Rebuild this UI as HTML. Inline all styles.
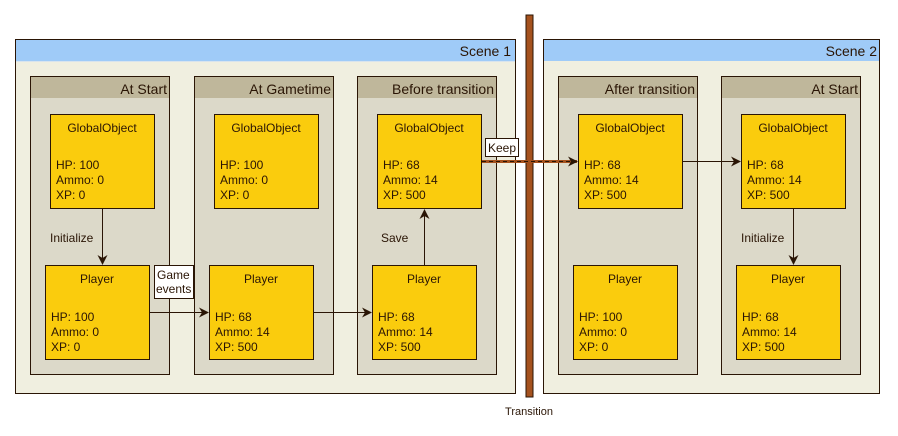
<!DOCTYPE html>
<html><head><meta charset="utf-8"><style>
html,body{margin:0;padding:0;background:#fff;width:898px;height:436px;overflow:hidden}
text{font-family:"Liberation Sans",sans-serif;fill:#2a1505}
</style></head><body>
<svg width="898" height="436" viewBox="0 0 898 436" xmlns="http://www.w3.org/2000/svg">
<defs>
<marker id="a" markerWidth="10" markerHeight="10" refX="9" refY="5" orient="auto" markerUnits="userSpaceOnUse">
<path d="M0,0 L10,5 L0,10 L3,5 Z" fill="#2a1505"/></marker>
</defs>
<!-- Scenes -->
<rect x="15.5" y="39.5" width="500" height="354" fill="#f0efe0" stroke="#2a1505"/>
<rect x="16" y="40" width="499" height="21" fill="#9fcbf8"/>
<line x1="16" y1="61.5" x2="515" y2="61.5" stroke="#d8e4ee"/>
<text x="511" y="56" font-size="14" text-anchor="end">Scene 1</text>
<rect x="543.5" y="39.5" width="336" height="354" fill="#f0efe0" stroke="#2a1505"/>
<rect x="544" y="40" width="335" height="21" fill="#9fcbf8"/>
<text x="877" y="56" font-size="14" text-anchor="end">Scene 2</text>
<!-- columns -->
<g font-size="14">
<g>
<rect x="30.5" y="76.5" width="139" height="298" fill="#dcd9c9" stroke="#2a1505"/>
<rect x="31" y="77" width="138" height="21" fill="#bfb79b"/>
<text x="167" y="94" text-anchor="end">At Start</text>
</g>
<g>
<rect x="194.5" y="76.5" width="139" height="298" fill="#dcd9c9" stroke="#2a1505"/>
<rect x="195" y="77" width="138" height="21" fill="#bfb79b"/>
<text x="331" y="94" text-anchor="end">At Gametime</text>
</g>
<g>
<rect x="357.5" y="76.5" width="139" height="298" fill="#dcd9c9" stroke="#2a1505"/>
<rect x="358" y="77" width="138" height="21" fill="#bfb79b"/>
<text x="494" y="94" text-anchor="end">Before transition</text>
</g>
<g>
<rect x="558.5" y="76.5" width="139" height="298" fill="#dcd9c9" stroke="#2a1505"/>
<rect x="559" y="77" width="138" height="21" fill="#bfb79b"/>
<text x="695" y="94" text-anchor="end">After transition</text>
</g>
<g>
<rect x="721.5" y="76.5" width="139" height="298" fill="#dcd9c9" stroke="#2a1505"/>
<rect x="722" y="77" width="138" height="21" fill="#bfb79b"/>
<text x="858" y="94" text-anchor="end">At Start</text>
</g>
</g>
<!-- boxes -->
<g font-size="12" stroke="#2a1505" fill="#facc0d">
<rect x="50.5" y="114.5" width="104" height="94"/>
<rect x="214.5" y="114.5" width="104" height="94"/>
<rect x="377.5" y="114.5" width="104" height="94"/>
<rect x="578.5" y="114.5" width="104" height="94"/>
<rect x="741.5" y="114.5" width="104" height="94"/>
<rect x="45.5" y="265.5" width="104" height="94"/>
<rect x="209.5" y="265.5" width="104" height="94"/>
<rect x="372.5" y="265.5" width="104" height="94"/>
<rect x="573.5" y="265.5" width="104" height="94"/>
<rect x="736.5" y="265.5" width="104" height="94"/>
</g>
<g font-size="12">
<text x="102" y="132" text-anchor="middle">GlobalObject</text>
<text x="56" y="169">HP: 100</text><text x="56" y="184">Ammo: 0</text><text x="56" y="199">XP: 0</text>
<text x="266" y="132" text-anchor="middle">GlobalObject</text>
<text x="220" y="169">HP: 100</text><text x="220" y="184">Ammo: 0</text><text x="220" y="199">XP: 0</text>
<text x="429" y="132" text-anchor="middle">GlobalObject</text>
<text x="383" y="169">HP: 68</text><text x="383" y="184">Ammo: 14</text><text x="383" y="199">XP: 500</text>
<text x="630" y="132" text-anchor="middle">GlobalObject</text>
<text x="584" y="169">HP: 68</text><text x="584" y="184">Ammo: 14</text><text x="584" y="199">XP: 500</text>
<text x="793" y="132" text-anchor="middle">GlobalObject</text>
<text x="747" y="169">HP: 68</text><text x="747" y="184">Ammo: 14</text><text x="747" y="199">XP: 500</text>

<text x="97" y="283" text-anchor="middle">Player</text>
<text x="51" y="321">HP: 100</text><text x="51" y="336">Ammo: 0</text><text x="51" y="351">XP: 0</text>
<text x="261" y="283" text-anchor="middle">Player</text>
<text x="215" y="321">HP: 68</text><text x="215" y="336">Ammo: 14</text><text x="215" y="351">XP: 500</text>
<text x="424" y="283" text-anchor="middle">Player</text>
<text x="378" y="321">HP: 68</text><text x="378" y="336">Ammo: 14</text><text x="378" y="351">XP: 500</text>
<text x="625" y="283" text-anchor="middle">Player</text>
<text x="579" y="321">HP: 100</text><text x="579" y="336">Ammo: 0</text><text x="579" y="351">XP: 0</text>
<text x="788" y="283" text-anchor="middle">Player</text>
<text x="742" y="321">HP: 68</text><text x="742" y="336">Ammo: 14</text><text x="742" y="351">XP: 500</text>
</g>
<!-- connectors -->
<g stroke="#2a1505" stroke-width="1" fill="none">
<line x1="102.5" y1="209" x2="102.5" y2="264" marker-end="url(#a)"/>
<line x1="793.5" y1="209" x2="793.5" y2="264" marker-end="url(#a)"/>
<line x1="150" y1="312.5" x2="208" y2="312.5" marker-end="url(#a)"/>
<line x1="314" y1="312.5" x2="371" y2="312.5" marker-end="url(#a)"/>
<line x1="424.5" y1="265" x2="424.5" y2="210" marker-end="url(#a)"/>
<line x1="683" y1="161.5" x2="740" y2="161.5" marker-end="url(#a)"/>
</g>
<!-- transition bar -->
<rect x="526" y="15" width="7" height="382" fill="#a5521e" stroke="#2a1505"/>
<line x1="482" y1="161.5" x2="577" y2="161.5" stroke="#a5521e" stroke-width="3" marker-end="url(#a)"/>
<line x1="482" y1="161.5" x2="577" y2="161.5" stroke="#2a1505" stroke-width="1" stroke-dasharray="4,3"/>
<g font-size="12">
<text x="50" y="242">Initialize</text>
<text x="741" y="242">Initialize</text>
<text x="381" y="242">Save</text>
<rect x="154.5" y="265.5" width="39" height="33" fill="#fff" stroke="#2a1505"/>
<text x="157" y="279">Game</text><text x="156" y="293">events</text>
<rect x="485.5" y="138.5" width="33" height="18" fill="#fff" stroke="#2a1505"/>
<text x="488" y="152">Keep</text>
<text x="529" y="415" text-anchor="middle" font-size="11">Transition</text>
</g>
</svg>
</body></html>
